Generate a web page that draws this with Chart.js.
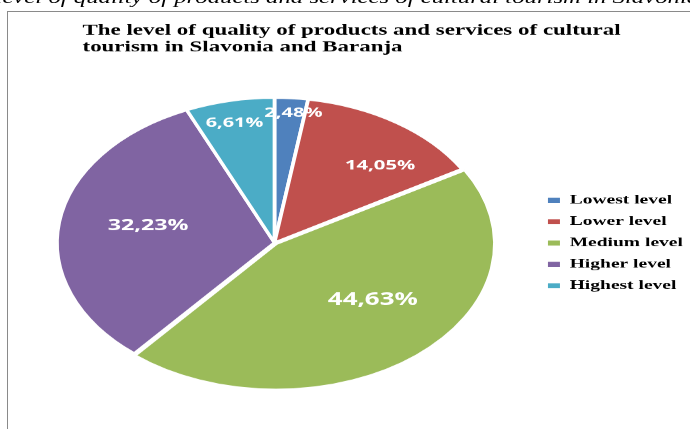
<!DOCTYPE html>
<html>
<head>
<meta charset="utf-8">
<script src="https://cdn.jsdelivr.net/npm/chart.js@4.4.1/dist/chart.umd.min.js"></script>
<style>
  html, body { margin: 0; padding: 0; background: #fff; overflow: hidden; }
  #page { position: relative; width: 690px; height: 429px; overflow: hidden; }
  /* the source picture is a chart stretched sideways by about 1.5 */
  #stretch { position: absolute; left: 0; top: 0; width: 460px; height: 429px; transform: scaleX(1.5); transform-origin: 0 0; }
  #caption { position: absolute; left: -3px; top: -11px; white-space: nowrap; font: italic 16.5px 'Liberation Serif'; line-height: 17px; color: #000; }
  #frame { position: absolute; left: 7px; top: 11px; width: 700px; height: 430px; border-left: 1px solid #8a8a8a; border-top: 1px solid #8a8a8a; }
  canvas { position: absolute; left: 0; top: 0; }
</style>
</head>
<body>
<div id="page">
  <div id="frame"></div>
  <div id="stretch">
    <div id="caption">level of quality of products and services of cultural tourism in Slavonia and Baranja</div>
    <canvas id="chart"></canvas>
  </div>
</div>
<script>
// --- Data ---
const titleLines = ['The level of quality of products and services of cultural', 'tourism in Slavonia and Baranja'];
const categories = ['Lowest level', 'Lower level', 'Medium level', 'Higher level', 'Highest level'];
const shares = [2.48, 14.05, 44.63, 32.23, 6.61];

// --- Styles ---
const sliceColors = ['#4F81BD', '#C0504D', '#9BBB59', '#8064A2', '#4BACC6'];
const PIE = { cx: 183, cy: 242.5, r: 145 };              // where the pie sits (unstretched px)
const labelPlace = [[1.116, 0.896], [0.863, 0.644], [0.701, 0.517], [0.587, 0.805], [0.892, 0.843]];
const labelSize = [13.4, 13.5, 17.3, 15.5, 13.2];

const fmt = v => v.toFixed(2).replace('.', ',') + '%';

// Moves the pie drawn by Chart.js onto the spot it has in the picture, then writes the values
const placePie = {
    id: 'placePie',
    beforeDatasetsDraw(chart) {
        const a = chart.getDatasetMeta(0).data[0];
        const k = PIE.r / a.outerRadius;
        const ctx = chart.ctx;
        ctx.save();
        ctx.translate(PIE.cx, PIE.cy);
        ctx.scale(k, k);
        ctx.translate(-a.x, -a.y);
    },
    afterDatasetsDraw(chart) {
        const ctx = chart.ctx;
        ctx.restore();
        ctx.save();
        ctx.fillStyle = '#fff';
        ctx.textAlign = 'center';
        ctx.textBaseline = 'middle';
        chart.getDatasetMeta(0).data.forEach((arc, i) => {
            const mid = (arc.startAngle + arc.endAngle) / 2;
            const x = PIE.cx + PIE.r * labelPlace[i][0] * Math.cos(mid);
            const y = PIE.cy + PIE.r * labelPlace[i][1] * Math.sin(mid);
            ctx.font = `bold ${labelSize[i]}px 'Open Sans'`;
            ctx.fillText(fmt(shares[i]), x, y);
        });
        ctx.restore();
    }
};

const canvas = document.getElementById('chart');
canvas.width = 460;
canvas.height = 429;

new Chart(canvas, {
    type: 'pie',
    data: {
        labels: categories,
        datasets: [{
            data: shares,
            backgroundColor: sliceColors,
            borderColor: '#fff',
            borderWidth: 2.5,
            offset: [0, 0, 6, 0, 0],
            clip: false
        }]
    },
    options: {
        responsive: false,
        devicePixelRatio: 1.5,
        animation: false,
        events: [],
        layout: { padding: { left: 55, right: 0, top: 0, bottom: 8 } },
        plugins: {
            title: {
                display: true,
                text: titleLines,
                align: 'start',
                color: '#000',
                font: { family: 'Liberation Serif', size: 15.3, weight: 'bold', lineHeight: 1.1 },
                padding: { top: 22, bottom: 9 }
            },
            legend: {
                position: 'right',
                align: 'center',
                fullSize: false,
                maxWidth: 103,
                labels: {
                    boxWidth: 8,
                    boxHeight: 5,
                    padding: 8.3,
                    color: '#000',
                    font: { family: 'Liberation Serif', size: 13, weight: 'bold' },
                    generateLabels: () => categories.map((t, i) => ({
                        text: t, fillStyle: sliceColors[i], strokeStyle: sliceColors[i],
                        lineWidth: 0, hidden: false, index: i
                    }))
                }
            },
            tooltip: { enabled: false }
        }
    },
    plugins: [placePie]
});
</script>
</body>
</html>
